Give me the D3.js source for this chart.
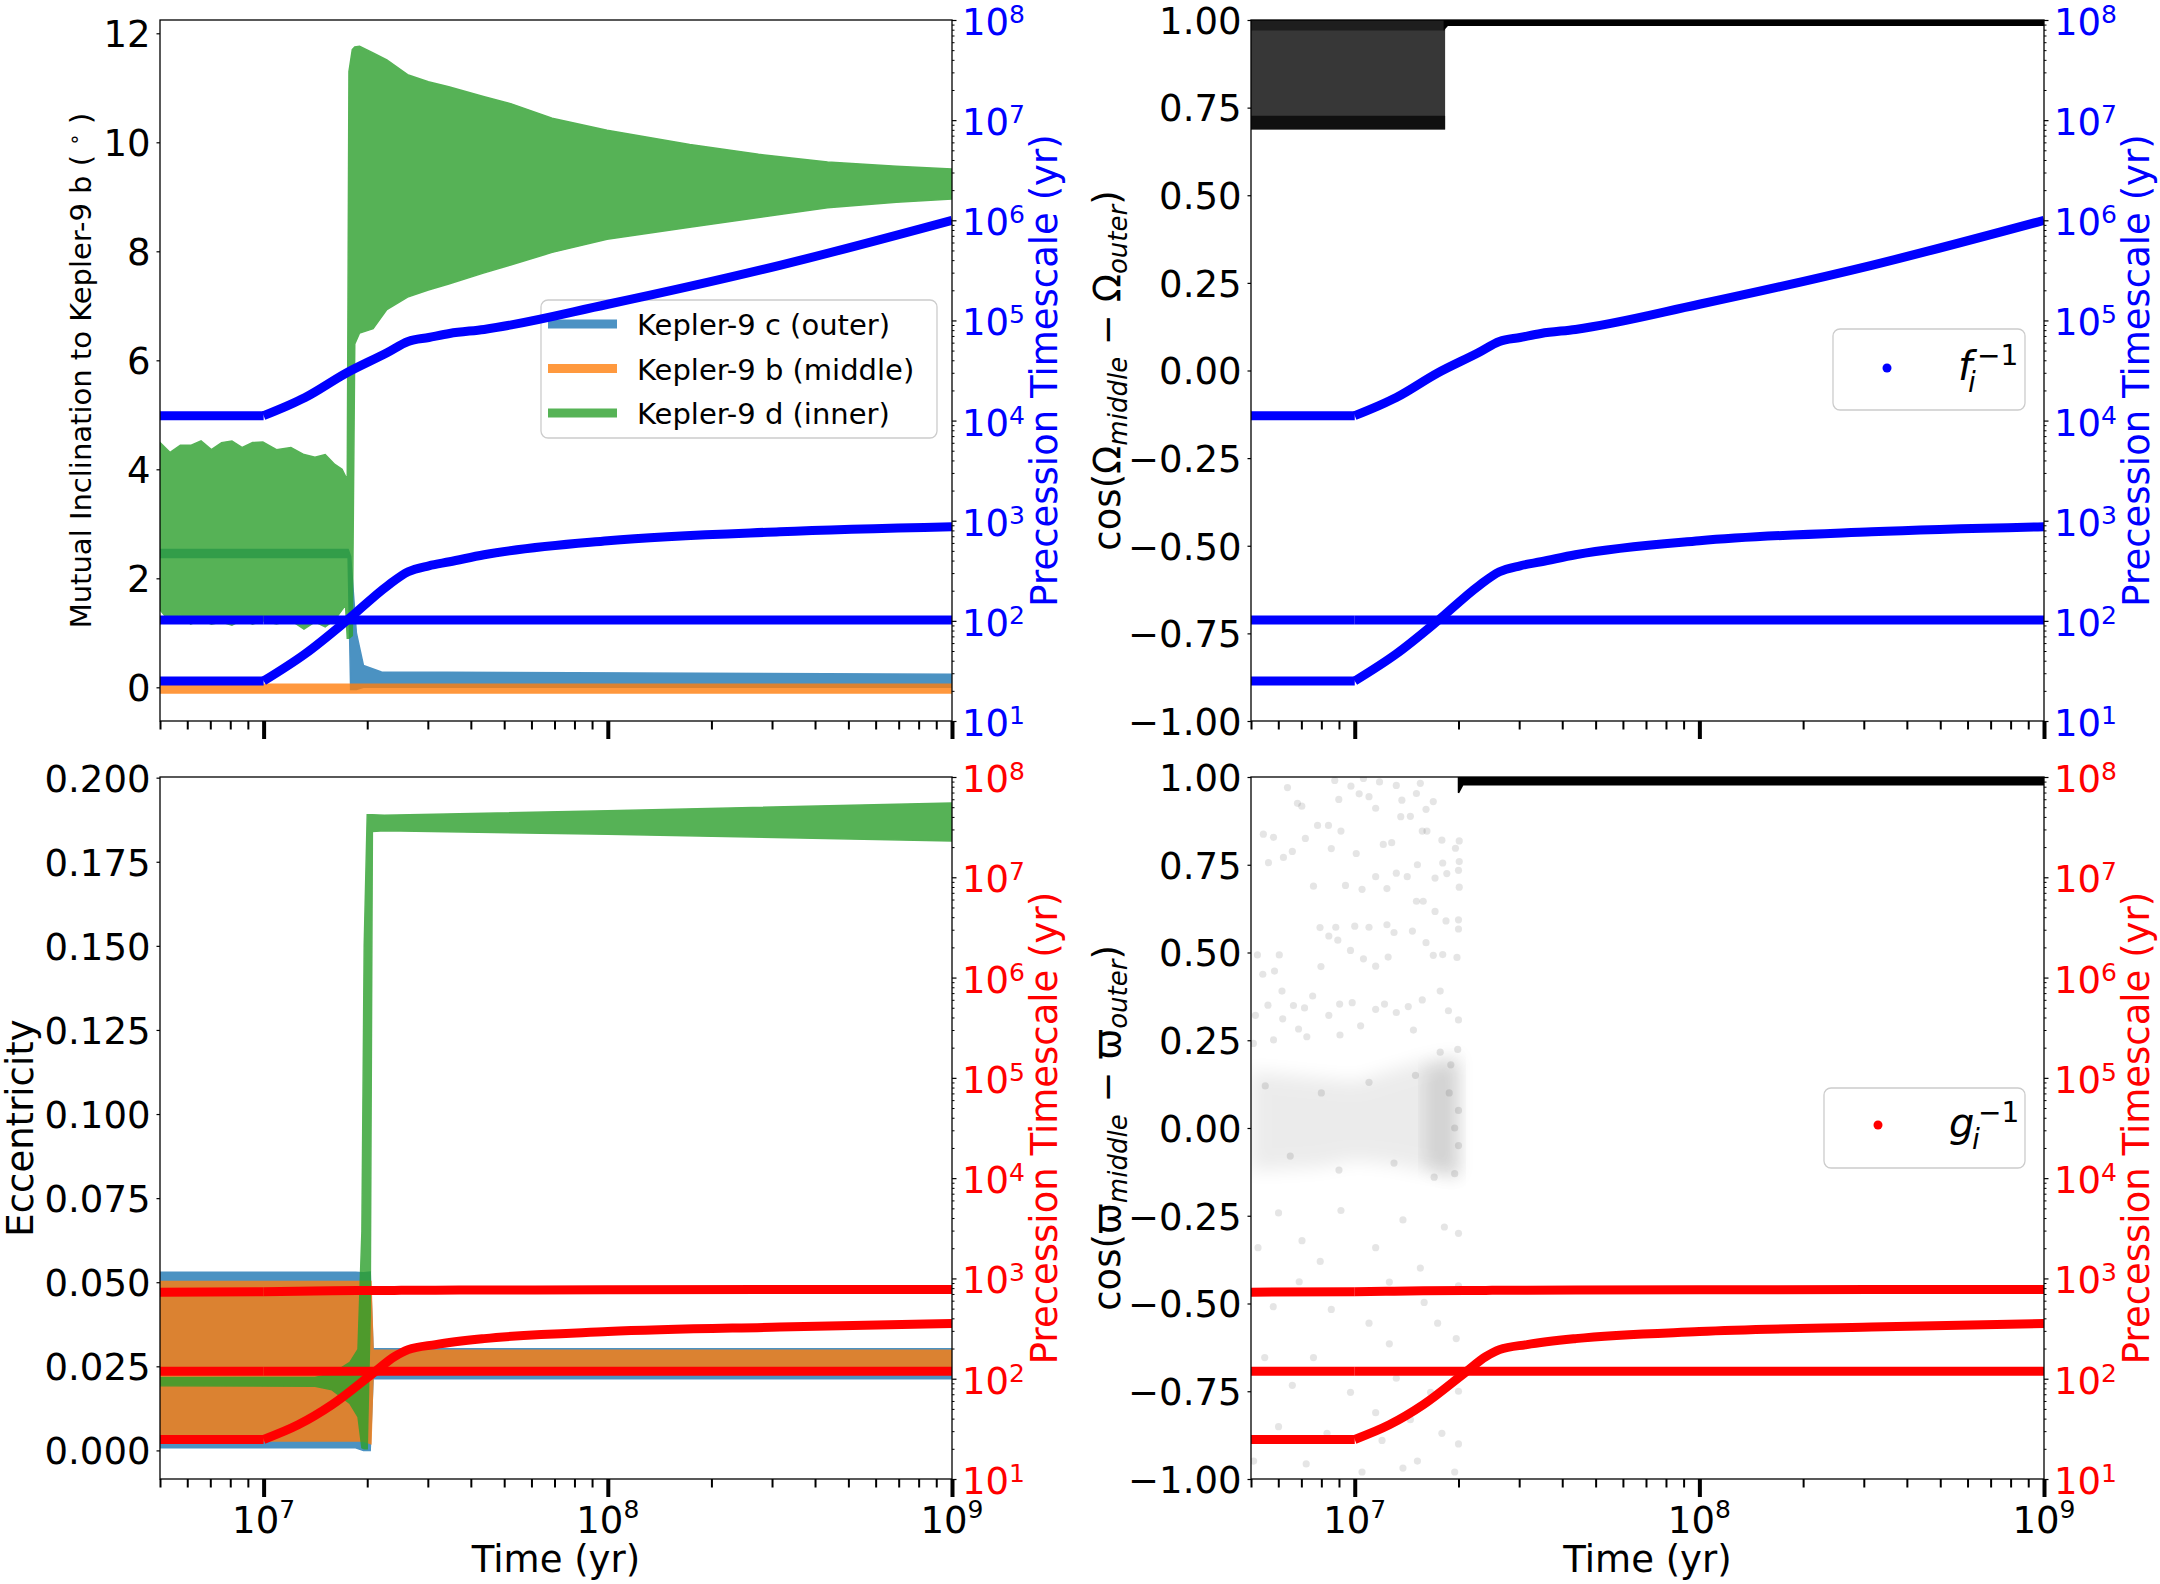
<!DOCTYPE html>
<html>
<head>
<meta charset="utf-8">
<title>Kepler-9 secular evolution</title>
<script src="https://cdn.jsdelivr.net/npm/d3@7.9.0/dist/d3.min.js"></script>
<style>
  body { margin: 0; background: #ffffff; }
  svg { display: block; font-family: "DejaVu Sans", sans-serif; }
</style>
</head>
<body>
<svg id="chart" width="2160" height="1584"></svg>
<script>
// ---------- values ----------

// precession timescales, top row (f_i^-1), in yr
const fTime = [5e6, 1e7, 1.32e7, 1.74e7, 2.29e7, 2.63e7, 3.02e7, 3.47e7, 4.37e7, 1e8, 3.16e8, 1e9];
const fInv1 = [1.12e4, 1.12e4, 1.70e4, 2.99e4, 4.79e4, 6.17e4, 6.76e4, 7.41e4, 8.13e4, 1.45e5, 3.55e5, 1.0e6];
const fInv2 = [25.1, 25.1, 46.8, 100, 224, 309, 355, 389, 457, 631, 776, 871];
const fInv3 = [102, 102, 102, 102, 102, 102, 102, 102, 102, 102, 102, 102];

// precession timescales, bottom row (g_i^-1), in yr
const gTime = [5e6, 1e7, 1.26e7, 1.58e7, 2.09e7, 2.4e7, 2.63e7, 3.16e7, 4.37e7, 1e8, 3.16e8, 1e9];
const gInv1 = [730, 738, 745, 752, 758, 760, 762, 764, 766, 770, 774, 776];
const gInv2 = [24.8, 24.8, 34.7, 55.0, 115, 166, 195, 219, 251, 295, 327, 355];
const gInv3 = [119, 119, 119, 119, 119, 119, 119, 119, 119, 119, 119, 119];

// mutual inclination to Kepler-9 b (deg): envelopes of the fast oscillation
const incDTime = [5.0e6, 5.35e6, 5.73e6, 6.14e6, 6.58e6, 7.05e6, 7.55e6, 8.09e6, 8.67e6, 9.29e6,
                  9.95e6, 1.09e7, 1.20e7, 1.31e7, 1.41e7, 1.51e7, 1.61e7, 1.69e7, 1.73e7, 1.75e7,
                  1.77e7, 1.81e7, 1.84e7, 1.90e7, 2.08e7, 2.28e7, 2.62e7, 3.01e7, 3.45e7, 4.35e7,
                  5.22e7, 6.89e7, 9.95e7, 1.73e8, 2.74e8, 4.35e8, 6.89e8, 1e9];
const incDLow  = [1.42, 1.20, 1.33, 1.16, 1.24, 1.16, 1.20, 1.14, 1.24, 1.16,
                  1.22, 1.16, 1.23, 1.07, 1.20, 1.11, 1.24, 1.42, 1.51, 0.90,
                  0.90, 0.95, 6.30, 6.50, 6.58, 6.93, 7.16, 7.29, 7.40, 7.60,
                  7.75, 7.98, 8.22, 8.44, 8.62, 8.80, 8.90, 8.96];
const incDHigh = [4.49, 4.31, 4.44, 4.44, 4.52, 4.36, 4.49, 4.52, 4.40, 4.49,
                  4.50, 4.36, 4.40, 4.27, 4.22, 4.27, 4.09, 4.00, 3.87, 3.85,
                  11.30, 11.70, 11.75, 11.76, 11.64, 11.51, 11.24, 11.11, 11.02, 10.84,
                  10.71, 10.44, 10.22, 9.96, 9.78, 9.64, 9.56, 9.51];
const incCTime = [5e6, 1.76e7, 1.79e7, 1.86e7, 1.95e7, 2.2e7, 1e9];
const incCLow  = [2.38, 2.38, -0.04, -0.04, 0.0, 0.0, 0.0];
const incCHigh = [2.53, 2.53, 2.40, 1.00, 0.40, 0.28, 0.24];
const incBTime = [5e6, 1e9];
const incBLow  = [-0.105, -0.105];
const incBHigh = [0.055, 0.055];

// eccentricity envelopes
const eccCTime = [5e6, 1.85e7, 1.95e7, 2.04e7, 2.08e7, 1e9];
const eccCLow  = [0.0008, 0.0008, 0.0000, 0.0000, 0.0213, 0.0213];
const eccCHigh = [0.0530, 0.0530, 0.0528, 0.0530, 0.0302, 0.0302];
const eccBTime = [5e6, 1.95e7, 2.05e7, 2.08e7, 1e9];
const eccBLow  = [0.0028, 0.0028, 0.0020, 0.0227, 0.0227];
const eccBHigh = [0.0502, 0.0502, 0.0502, 0.0298, 0.0298];
const eccDTime = [5e6, 1.41e7, 1.58e7, 1.78e7, 1.88e7, 1.93e7, 1.96e7, 2.0e7, 2.04e7, 2.07e7, 2.24e7, 1e8, 1e9];
const eccDLow  = [0.0192, 0.0191, 0.0180, 0.0140, 0.0100, 0.0008, 0.0005, 0.0005, 0.0400, 0.1840, 0.1842, 0.1832, 0.1812];
const eccDHigh = [0.0216, 0.0217, 0.0228, 0.0262, 0.0300, 0.0650, 0.1500, 0.1890, 0.1890, 0.1890, 0.1888, 0.1902, 0.1925];

// cos(Omega_middle - Omega_outer): librating cloud, then locked line
const omCloudTime = [5e6, 1.82e7];
const omCloudLow  = [0.69, 0.69];
const omCloudHigh = [1.0, 1.0];
const omFloorHigh = [0.725, 0.725];
const omCeilLow   = [0.972, 0.972];
const omLockTime = [1.82e7, 1.86e7, 1e9];
const omLockLow  = [0.975, 0.985, 0.985];
const omLockHigh = [1.0, 1.0, 1.0];

// cos(varpi_middle - varpi_outer): circulating dots, dense core, then locked line
const pwCoreTime = [5e6, 7.9e6, 1e7, 1.26e7, 1.58e7, 2.0e7];
const pwCoreLow  = [-0.12, -0.11, -0.09, -0.10, -0.12, -0.14];
const pwCoreHigh = [0.16, 0.14, 0.13, 0.16, 0.19, 0.21];
const pwKnotTime = [1.6e7, 2.0e7];
const pwKnotLow  = [-0.11, -0.14];
const pwKnotHigh = [0.17, 0.19];
const pwLockTime = [2.0e7, 2.06e7, 1e9];
const pwLockLow  = [0.955, 0.978, 0.978];
const pwLockHigh = [1.0, 1.0, 1.0];
const pwDotTime = [
  6.38e6, 6.82e6, 7.02e6, 5.43e6, 5.81e6, 7.19e6, 7.80e6, 8.39e6, 9.12e6, 5.62e6,
  6.21e6, 6.59e6, 7.59e6, 8.55e6, 1.01e7, 9.40e6, 1.05e7, 1.10e7, 1.15e7, 1.03e7,
  8.99e6, 8.75e6, 9.75e6, 1.06e7, 1.18e7, 1.32e7, 1.37e7, 1.51e7, 1.55e7, 1.61e7,
  1.69e7, 1.62e7, 1.79e7, 1.96e7, 2.01e7, 2.01e7, 2.00e7, 2.01e7, 1.80e7, 1.85e7,
  1.71e7, 1.52e7, 1.42e7, 1.32e7, 1.24e7, 1.15e7, 1.21e7, 1.28e7, 1.36e7, 1.45e7,
  1.57e7, 5.22e6, 5.41e6, 5.85e6, 6.04e6, 6.15e6, 6.64e6, 7.15e6, 7.55e6, 7.93e6,
  7.98e6, 8.41e6, 8.81e6, 8.93e6, 9.72e6, 1.06e7, 1.00e7, 1.10e7, 1.15e7, 1.25e7,
  1.24e7, 1.30e7, 1.47e7, 1.51e7, 1.58e7, 1.61e7, 1.69e7, 1.80e7, 1.98e7, 2.00e7,
  2.00e7, 1.71e7, 1.84e7, 5.15e6, 5.60e6, 6.18e6, 6.87e6, 8.41e6, 9.04e6, 9.83e6,
  1.04e7, 1.15e7, 1.22e7, 1.32e7, 1.43e7, 1.57e7, 1.77e7, 1.87e7, 2.00e7, 1.99e7,
  1.77e7, 1.48e7, 9.06e6, 7.26e6, 5.81e6, 5.08e6, 5.50e6, 6.50e6, 8.00e6, 9.00e6,
  1.10e7, 1.30e7, 1.50e7, 1.70e7, 1.90e7, 1.95e7, 2.00e7, 2.00e7, 1.95e7, 1.88e7,
  5.24e6, 7.03e6, 7.94e6, 1.15e7, 1.26e7, 5.80e6, 8.55e6, 1.10e7, 5.48e6, 6.59e6,
  9.72e6, 1.32e7, 6.01e6, 8.31e6, 1.20e7, 1.45e7, 5.09e6, 7.23e6, 1.05e7, 1.52e7,
  1.66e7, 1.74e7, 1.55e7, 1.79e7, 1.82e7, 6.01e6, 9.12e6, 1.38e7, 1.26e7, 7.59e6,
  1.59e7, 1.15e7, 1.38e7, 6.90e6, 2.00e7, 2.00e7, 1.97e7, 2.00e7, 2.00e7, 1.95e7
];
const pwDotCos = [
  0.970, 0.925, 0.917, 0.837, 0.828, 0.825, 0.862, 0.862, 0.846, 0.756,
  0.771, 0.788, 0.689, 0.796, 0.782, 0.691, 0.680, 0.944, 0.911, 0.952,
  0.936, 0.990, 0.974, 0.996, 0.986, 0.976, 0.934, 0.953, 0.982, 0.908,
  0.930, 0.846, 0.820, 0.797, 0.818, 0.759, 0.734, 0.686, 0.755, 0.725,
  0.712, 0.750, 0.716, 0.726, 0.682, 0.716, 0.808, 0.813, 0.887, 0.888,
  0.846, 0.493, 0.438, 0.447, 0.493, 0.390, 0.349, 0.342, 0.376, 0.571,
  0.460, 0.547, 0.572, 0.535, 0.506, 0.482, 0.575, 0.572, 0.461, 0.487,
  0.579, 0.557, 0.561, 0.646, 0.646, 0.528, 0.492, 0.494, 0.486, 0.567,
  0.593, 0.617, 0.590, 0.321, 0.350, 0.311, 0.282, 0.321, 0.353, 0.357,
  0.291, 0.338, 0.353, 0.329, 0.346, 0.365, 0.390, 0.334, 0.308, 0.224,
  0.216, 0.279, 0.265, 0.260, 0.251, 0.241, 0.120, -0.080, 0.100, -0.120,
  0.130, -0.100, 0.150, -0.140, 0.180, -0.130, 0.050, -0.050, 0.000, 0.100,
  -0.341, -0.321, -0.380, -0.341, -0.439, -0.509, -0.517, -0.556, -0.654, -0.733,
  -0.753, -0.713, -0.851, -0.870, -0.890, -0.831, -0.949, -0.957, -0.980, -0.949,
  -0.753, -0.556, -0.399, -0.870, -0.282, -0.242, -0.235, -0.262, -0.615, -0.654,
  -0.497, -0.811, -0.969, -0.438, -0.300, -0.450, -0.600, -0.750, -0.900, -0.980
];

// tick labels
const incTicks = [0, 2, 4, 6, 8, 10, 12];
const eccTicks = [0, 0.025, 0.05, 0.075, 0.1, 0.125, 0.15, 0.175, 0.2];
const cosTicks = [-1, -0.75, -0.5, -0.25, 0, 0.25, 0.5, 0.75, 1];
const planetNames = ["Kepler-9 c (outer)", "Kepler-9 b (middle)", "Kepler-9 d (inner)"];
const planetColors = ["#1f77b4", "#ff7f0e", "#2ca02c"];

// ---------- layout ----------
const svg = d3.select("#chart");
const FONT = "DejaVu Sans";
const panels = {
  tl: {x0: 160, x1: 952, y0: 20, y1: 721},
  tr: {x0: 1251, x1: 2044, y0: 20, y1: 721},
  bl: {x0: 160, x1: 952, y0: 777, y1: 1479},
  br: {x0: 1251, x1: 2044, y0: 777, y1: 1479}
};

svg.append("rect").attr("width", 2160).attr("height", 1584).attr("fill", "#fff");
const defs = svg.append("defs");
Object.entries(panels).forEach(([k, p]) => {
  defs.append("clipPath").attr("id", "clip-" + k)
    .append("rect").attr("x", p.x0).attr("y", p.y0)
    .attr("width", p.x1 - p.x0).attr("height", p.y1 - p.y0);
});
// soft edge for the dense part of the scatter
defs.append("filter").attr("id", "soft").attr("x", "-20%").attr("y", "-60%")
  .attr("width", "140%").attr("height", "220%")
  .append("feGaussianBlur").attr("stdDeviation", 9);

function timeScale(p) {
  return d3.scaleLog().domain([5e6, 1e9]).range([p.x0, p.x1]);
}
function tauScale(p) {
  return d3.scaleLog().domain([10, 1e8]).range([p.y1, p.y0]);
}

// filled envelope of a fast-oscillating series
function drawBand(g, x, y, time, lo, hi, color, alpha, blur) {
  const area = d3.area()
    .x((d, i) => x(time[i]))
    .y0((d, i) => y(lo[i]))
    .y1((d, i) => y(hi[i]));
  const grp = g.append("g").attr("opacity", alpha);
  if (blur) grp.attr("filter", "url(#soft)");
  grp.append("path").datum(time).attr("d", area)
    .attr("fill", color).attr("stroke", color).attr("stroke-width", 1.5);
}

// thick precession timescale curve: straight plateau, then a smooth rise
function drawTau(g, x, tau, time, vals, color) {
  const pts = time.map((t, i) => [x(t), tau(vals[i])]);
  const flat = d3.line();
  const rise = d3.line().curve(d3.curveMonotoneX);
  const grp = g.append("g").attr("fill", "none").attr("stroke", color)
    .attr("stroke-width", 9).attr("stroke-linejoin", "round");
  grp.append("path").attr("d", flat(pts.slice(0, 2)));
  grp.append("path").attr("d", rise(pts.slice(1)));
}

function powerLabel(sel, exp, baseSize, expSize, rise) {
  sel.append("tspan").attr("font-size", baseSize).text("10");
  sel.append("tspan").attr("font-size", expSize).attr("dy", -rise).text(exp);
}

function drawTimeAxis(p, x, withLabels) {
  const all = x.ticks();
  const majors = all.filter(d => Math.abs(Math.log10(d) - Math.round(Math.log10(d))) < 1e-9);
  const minors = all.filter(d => !majors.includes(d));
  const gMin = svg.append("g").attr("transform", `translate(0,${p.y1})`)
    .call(d3.axisBottom(x).tickValues(minors).tickSize(8.5).tickFormat(""));
  gMin.select(".domain").remove();
  gMin.selectAll(".tick line").attr("stroke-width", 2);
  const gMaj = svg.append("g").attr("transform", `translate(0,${p.y1})`)
    .call(d3.axisBottom(x).tickValues(majors).tickSize(18).tickFormat(""));
  gMaj.select(".domain").remove();
  gMaj.selectAll(".tick line").attr("stroke-width", 4);
  if (withLabels) {
    majors.forEach(d => {
      const t = svg.append("text").attr("x", x(d)).attr("y", p.y1 + 54)
        .attr("text-anchor", "middle").attr("font-family", FONT).attr("fill", "#000");
      powerLabel(t, Math.round(Math.log10(d)), 37, 25, 15);
    });
    svg.append("text").attr("x", (p.x0 + p.x1) / 2).attr("y", p.y1 + 93)
      .attr("text-anchor", "middle").attr("font-family", FONT).attr("font-size", 37)
      .text("Time (yr)");
  }
}

function drawLeftAxis(p, y, ticks, fmt) {
  const g = svg.append("g").attr("transform", `translate(${p.x0},0)`)
    .call(d3.axisLeft(y).tickValues(ticks).tickSize(3.5).tickPadding(6).tickFormat(fmt));
  g.select(".domain").remove();
  g.attr("font-family", FONT).attr("font-size", 37);
  g.selectAll(".tick line").attr("stroke-width", 1.2);
  g.selectAll(".tick text").attr("dy", "0.36em");
}

function drawTauAxis(p, tau, color) {
  const all = tau.ticks();
  const majors = all.filter(d => Math.abs(Math.log10(d) - Math.round(Math.log10(d))) < 1e-9);
  const minors = all.filter(d => !majors.includes(d));
  const gMin = svg.append("g").attr("transform", `translate(${p.x1},0)`)
    .call(d3.axisRight(tau).tickValues(minors).tickSize(2.5).tickFormat(""));
  gMin.select(".domain").remove();
  gMin.selectAll(".tick line").attr("stroke-width", 1);
  const gMaj = svg.append("g").attr("transform", `translate(${p.x1},0)`)
    .call(d3.axisRight(tau).tickValues(majors).tickSize(4.5).tickFormat(""));
  gMaj.select(".domain").remove();
  gMaj.selectAll(".tick line").attr("stroke-width", 1.2);
  majors.forEach(d => {
    const t = svg.append("text").attr("x", p.x1 + 10).attr("y", tau(d) + 15)
      .attr("font-family", FONT).attr("fill", color);
    powerLabel(t, Math.round(Math.log10(d)), 37, 25, 12);
  });
  svg.append("text")
    .attr("transform", `translate(${p.x1 + 105},${(p.y0 + p.y1) / 2}) rotate(-90)`)
    .attr("text-anchor", "middle").attr("font-family", FONT).attr("font-size", 37)
    .attr("fill", color).text("Precession Timescale (yr)");
}

function drawSpines(p) {
  svg.append("rect").attr("x", p.x0).attr("y", p.y0)
    .attr("width", p.x1 - p.x0).attr("height", p.y1 - p.y0)
    .attr("fill", "none").attr("stroke", "#000").attr("stroke-width", 1.3);
}

function cosLabel(p, sym) {
  const t = svg.append("text")
    .attr("transform", `translate(1120,${(p.y0 + p.y1) / 2}) rotate(-90)`)
    .attr("text-anchor", "middle").attr("font-family", FONT).attr("font-size", 37);
  t.append("tspan").text("cos(" + sym);
  t.append("tspan").attr("font-style", "italic").attr("font-size", 26).attr("dy", 7).text("middle");
  t.append("tspan").attr("dy", -7).text(" \u2212 " + sym);
  t.append("tspan").attr("font-style", "italic").attr("font-size", 26).attr("dy", 7).text("outer");
  t.append("tspan").attr("dy", -7).text(")");
}

function mathLegend(box, dot, color, letter, subX, supX) {
  svg.append("rect").attr("x", box[0]).attr("y", box[1])
    .attr("width", box[2] - box[0]).attr("height", box[3] - box[1]).attr("rx", 7)
    .attr("fill", "#fff").attr("fill-opacity", 0.8)
    .attr("stroke", "#cccccc").attr("stroke-width", 1.3);
  svg.append("circle").attr("cx", dot[0]).attr("cy", dot[1]).attr("r", 4.5).attr("fill", color);
  const t = svg.append("text").attr("font-family", FONT).attr("fill", "#000");
  t.append("tspan").attr("x", dot[0] + 71).attr("y", dot[1] + 12)
    .attr("font-style", "italic").attr("font-size", 40).text(letter);
  t.append("tspan").attr("x", dot[0] + subX).attr("y", dot[1] + 24)
    .attr("font-style", "italic").attr("font-size", 28).text("i");
  t.append("tspan").attr("x", dot[0] + supX).attr("y", dot[1] - 3)
    .attr("font-size", 28).text("\u22121");
}

// ---------- top-left: mutual inclination ----------
{
  const p = panels.tl;
  const x = timeScale(p);
  const y = d3.scaleLinear().domain([-0.618, 12.244]).range([p.y1, p.y0]);
  const tau = tauScale(p);
  const g = svg.append("g").attr("clip-path", "url(#clip-tl)");
  drawBand(g, x, y, incCTime, incCLow, incCHigh, planetColors[0], 0.8);
  drawBand(g, x, y, incBTime, incBLow, incBHigh, planetColors[1], 0.8);
  drawBand(g, x, y, incDTime, incDLow, incDHigh, planetColors[2], 0.8);

  // legend of the inclination axes (below the twin-axis curves)
  svg.append("rect").attr("x", 541).attr("y", 300).attr("width", 396).attr("height", 138).attr("rx", 7)
    .attr("fill", "#fff").attr("fill-opacity", 0.8)
    .attr("stroke", "#cccccc").attr("stroke-width", 1.3);
  planetNames.forEach((name, i) => {
    const cy = 324 + i * 44.5;
    svg.append("line").attr("x1", 548).attr("x2", 617).attr("y1", cy).attr("y2", cy)
      .attr("stroke", planetColors[i]).attr("stroke-opacity", 0.8).attr("stroke-width", 9);
    svg.append("text").attr("x", 637).attr("y", cy + 11)
      .attr("font-family", FONT).attr("font-size", 29).text(name);
  });

  const gt = svg.append("g").attr("clip-path", "url(#clip-tl)");
  [fInv1, fInv2, fInv3].forEach(v => drawTau(gt, x, tau, fTime, v, "#0000ff"));
  drawSpines(p);
  drawTimeAxis(p, x, false);
  drawLeftAxis(p, y, incTicks, d3.format("d"));
  drawTauAxis(p, tau, "#0000ff");

  const lab = svg.append("text")
    .attr("transform", `translate(91,${(p.y0 + p.y1) / 2}) rotate(-90)`)
    .attr("text-anchor", "middle").attr("font-family", FONT).attr("font-size", 29);
  lab.append("tspan").text("Mutual Inclination to Kepler-9 b ( ");
  lab.append("tspan").attr("font-size", 20).attr("dy", -10).text("\u2218");
  lab.append("tspan").attr("dy", 10).text(" )");
}

// ---------- top-right: cos(dOmega) ----------
{
  const p = panels.tr;
  const x = timeScale(p);
  const y = d3.scaleLinear().domain([-1, 1]).range([p.y1, p.y0]);
  const tau = tauScale(p);
  const g = svg.append("g").attr("clip-path", "url(#clip-tr)");
  drawBand(g, x, y, omCloudTime, omCloudLow, omCloudHigh, "#000", 0.78);
  drawBand(g, x, y, omCloudTime, omCloudLow, omFloorHigh, "#000", 0.7);
  drawBand(g, x, y, omCloudTime, omCeilLow, omCloudHigh, "#000", 0.45);
  drawBand(g, x, y, omLockTime, omLockLow, omLockHigh, "#000", 1);

  const gt = svg.append("g").attr("clip-path", "url(#clip-tr)");
  [fInv1, fInv2, fInv3].forEach(v => drawTau(gt, x, tau, fTime, v, "#0000ff"));
  drawSpines(p);
  drawTimeAxis(p, x, false);
  drawLeftAxis(p, y, cosTicks, d3.format(".2f"));
  drawTauAxis(p, tau, "#0000ff");
  cosLabel(p, "\u03a9");
  mathLegend([1833, 329, 2025, 410], [1887, 368], "#0000ff", "f", 81, 90);
}

// ---------- bottom-left: eccentricity ----------
{
  const p = panels.bl;
  const x = timeScale(p);
  const y = d3.scaleLinear().domain([-0.0085, 0.2002]).range([p.y1, p.y0]);
  const tau = tauScale(p);
  const g = svg.append("g").attr("clip-path", "url(#clip-bl)");
  drawBand(g, x, y, eccCTime, eccCLow, eccCHigh, planetColors[0], 0.8);
  drawBand(g, x, y, eccBTime, eccBLow, eccBHigh, planetColors[1], 0.8);
  drawBand(g, x, y, eccDTime, eccDLow, eccDHigh, planetColors[2], 0.8);

  const gt = svg.append("g").attr("clip-path", "url(#clip-bl)");
  [gInv1, gInv2, gInv3].forEach(v => drawTau(gt, x, tau, gTime, v, "#ff0000"));
  drawSpines(p);
  drawTimeAxis(p, x, true);
  drawLeftAxis(p, y, eccTicks, d3.format(".3f"));
  drawTauAxis(p, tau, "#ff0000");
  svg.append("text")
    .attr("transform", `translate(33,${(p.y0 + p.y1) / 2}) rotate(-90)`)
    .attr("text-anchor", "middle").attr("font-family", FONT).attr("font-size", 37)
    .text("Eccentricity");
}

// ---------- bottom-right: cos(dvarpi) ----------
{
  const p = panels.br;
  const x = timeScale(p);
  const y = d3.scaleLinear().domain([-1, 1]).range([p.y1, p.y0]);
  const tau = tauScale(p);
  const g = svg.append("g").attr("clip-path", "url(#clip-br)");
  drawBand(g, x, y, pwCoreTime, pwCoreLow, pwCoreHigh, "#000", 0.075, true);
  drawBand(g, x, y, pwKnotTime, pwKnotLow, pwKnotHigh, "#000", 0.1, true);
  g.append("g").selectAll("circle").data(pwDotTime).join("circle")
    .attr("cx", d => x(d)).attr("cy", (d, i) => y(pwDotCos[i])).attr("r", 3.6)
    .attr("fill", "#000").attr("fill-opacity", 0.1);
  drawBand(g, x, y, pwLockTime, pwLockLow, pwLockHigh, "#000", 1);

  const gt = svg.append("g").attr("clip-path", "url(#clip-br)");
  [gInv1, gInv2, gInv3].forEach(v => drawTau(gt, x, tau, gTime, v, "#ff0000"));
  drawSpines(p);
  drawTimeAxis(p, x, true);
  drawLeftAxis(p, y, cosTicks, d3.format(".2f"));
  drawTauAxis(p, tau, "#ff0000");
  cosLabel(p, "\u03d6");
  mathLegend([1824, 1088, 2025, 1168], [1878, 1125], "#ff0000", "g", 94, 100);
}
</script>
</body>
</html>
